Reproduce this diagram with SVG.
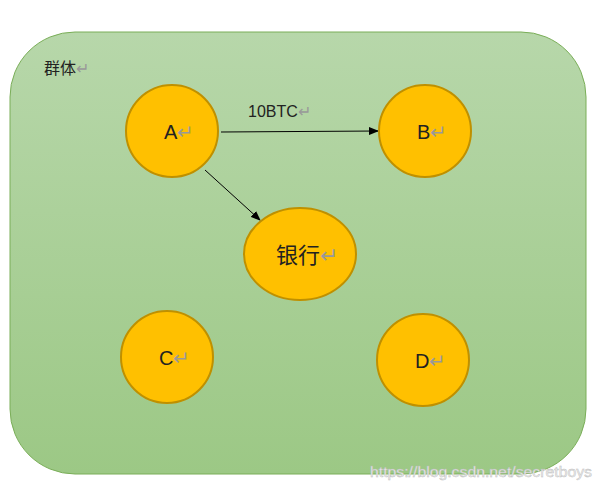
<svg xmlns="http://www.w3.org/2000/svg" width="601" height="491" viewBox="0 0 601 491">
<defs>
<linearGradient id="g" x1="0" y1="0" x2="0" y2="1"><stop offset="0" stop-color="#b7d7aa"/><stop offset="1" stop-color="#9cc885"/></linearGradient>
<marker id="ah" markerWidth="10" markerHeight="8" refX="9" refY="4" orient="auto" markerUnits="userSpaceOnUse"><path d="M0,0 L10,4 L0,8 z" fill="#000"/></marker>
</defs>
<style>
.n{fill:#ffc000;stroke:#bf9000;stroke-width:2}
.t{font-family:"Liberation Sans","Noto Sans CJK SC",sans-serif;font-size:20px;fill:#222}
.r{fill:#999}
.c{stroke:#000;stroke-width:1;fill:none;marker-end:url(#ah)}
</style>
<rect width="601" height="491" fill="#fff"/>
<g id="group"><rect x="10" y="32" width="576" height="442" rx="65" fill="url(#g)" stroke="#7aae58"/>
<text x="44" y="74" class="t" style="font-size:16px">群体<tspan class="r">↵</tspan></text></g>
<g id="connectors">
<line x1="221" y1="132" x2="378" y2="131" class="c"/>
<line x1="205" y1="170" x2="260" y2="220" class="c"/>
<text x="248" y="117" class="t" style="font-size:16px">10BTC<tspan class="r">↵</tspan></text>
</g>
<g id="A"><circle cx="172" cy="131" r="46" class="n"/><text x="164" y="139" class="t">A<tspan class="r">↵</tspan></text></g>
<g id="B"><circle cx="425" cy="131" r="46" class="n"/><text x="417" y="139" class="t">B<tspan class="r">↵</tspan></text></g>
<g id="bank"><ellipse cx="300" cy="254" rx="56" ry="46" class="n"/><text x="276" y="263" class="t" style="font-size:22px">银行<tspan class="r">↵</tspan></text></g>
<g id="C"><circle cx="167" cy="357" r="46" class="n"/><text x="159" y="365" class="t">C<tspan class="r">↵</tspan></text></g>
<g id="D"><circle cx="423" cy="360" r="46" class="n"/><text x="415" y="368" class="t">D<tspan class="r">↵</tspan></text></g>
<text x="370" y="477" textLength="222" lengthAdjust="spacingAndGlyphs" style="font-family:'Liberation Sans',sans-serif;font-size:14px;fill:#eee;stroke:#bbb;stroke-width:0.4">https://blog.csdn.net/secretboys</text>
</svg>
